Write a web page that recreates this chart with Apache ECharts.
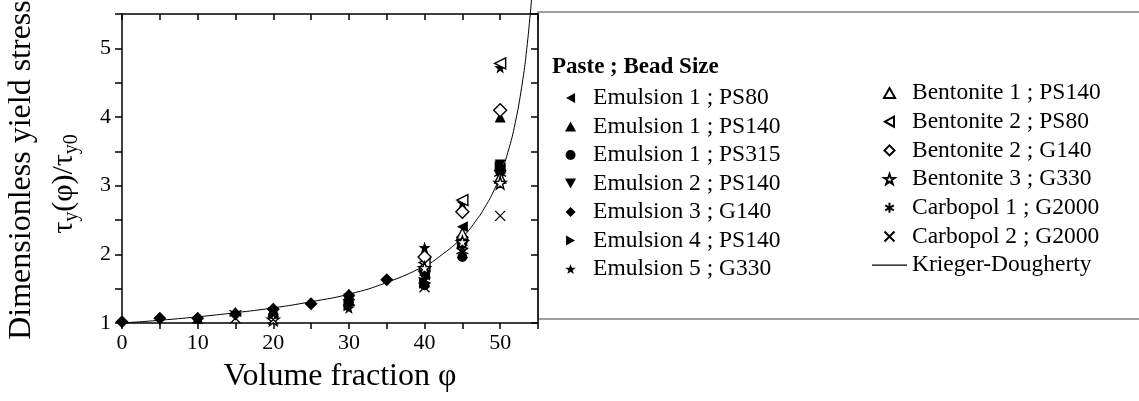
<!DOCTYPE html>
<html><head><meta charset="utf-8">
<script src="https://cdn.jsdelivr.net/npm/echarts@6/dist/echarts.min.js"></script>
<style>html,body{margin:0;padding:0;background:#fff}#c{width:1139px;height:401px}</style>
</head><body><div id="c"></div>
<script>
// ---- data (volume fraction %, dimensionless yield stress) ----
const emul1PS80  = [[40,1.70],[45,2.40],[50,3.25]];
const emul1PS140 = [[10,1.07],[20,1.20],[30,1.42],[40,1.60],[45,2.20],[50,4.00]];
const emul1PS315 = [[20,1.10],[30,1.30],[40,1.55],[45,1.96],[50,3.20]];
const emul2PS140 = [[20,1.15],[30,1.35],[40,1.65],[45,2.10],[50,3.30]];
const emul3G140  = [[0,1.02],[5,1.07],[10,1.07],[15,1.13],[20,1.20],[25,1.28],[30,1.40],[35,1.63],[40,1.75],[45,2.25],[50,3.22]];
const emul4PS140 = [[30,1.25],[40,1.58],[45,2.15],[50,3.28]];
const emul5G330  = [[20,1.08],[30,1.22],[40,2.10],[45,2.75],[50,4.72]];
const bent1PS140 = [[40,1.85],[45,2.30],[50,3.12]];
const bent2PS80  = [[40,1.88],[45,2.79],[50,4.78]];
const bent2G140  = [[40,1.96],[45,2.62],[50,4.10]];
const bent3G330  = [[20,1.05],[40,1.80],[45,2.18],[50,3.04]];
const carb1G2000 = [[15,1.14],[30,1.30],[40,1.62],[45,2.05],[50,3.18]];
const carb2G2000 = [[15,1.07],[20,1.05],[40,1.52],[45,2.02],[50,2.56]];
const kriegerDougherty = [[0,1.00],[5,1.04],[10,1.09],[15,1.15],[20,1.22],[25,1.31],[30,1.42],[35,1.59],[40,1.83],[42,1.97],[45,2.25],[47,2.52],[48,2.69],[49,2.89],[50,3.15],[51,3.48],[52,3.92],[53,4.55],[53.5,4.98],[54,5.53],[54.2,5.79]];
const xTicks = [0,10,20,30,40,50];
const yTicks = [1,2,3,4,5];

const FONT = '"Liberation Serif","DejaVu Serif",serif';
const sym = {
  left:'path://M0,5L9,0L9,10Z',
  right:'path://M9,5L0,0L0,10Z',
  up:'path://M5,0L10,9L0,9Z',
  down:'path://M0,0L10,0L5,9Z',
  diamond:'path://M5,0L10,5L5,10L0,5Z',
  star:'path://M5,0L6.18,3.38L9.76,3.45L6.9,5.62L7.94,9.05L5,7L2.06,9.05L3.1,5.62L0.24,3.45L3.82,3.38Z',
  ast:'path://M5,0L5,10M0.7,2.5L9.3,7.5M9.3,2.5L0.7,7.5',
  cross:'path://M0,0L10,10M10,0L0,10',
  bar:'path://M0,0L35,0L35,1.2L0,1.2Z'
};
function filled(name, data, symbol, size){
  return {type:'scatter', name, data, symbol, symbolSize:size||11, xAxisIndex:0, yAxisIndex:0,
    itemStyle:{color:'#000', opacity:1}, emphasis:{disabled:true}, z:3};
}
function open(name, data, symbol, size){
  return {type:'scatter', name, data, symbol, symbolSize:size||11, xAxisIndex:0, yAxisIndex:0,
    itemStyle:{color:'#fff', borderColor:'#000', borderWidth:1.4, opacity:1}, emphasis:{disabled:true}, z:4};
}
function lines(name, data, symbol, size){
  return {type:'scatter', name, data, symbol, symbolSize:size||11, xAxisIndex:0, yAxisIndex:0,
    itemStyle:{color:'none', borderColor:'#000', borderWidth:1.3, opacity:1}, emphasis:{disabled:true}, z:4};
}
const series = [
  filled('Emulsion 1 ; PS80', emul1PS80, sym.left),
  filled('Emulsion 1 ; PS140', emul1PS140, sym.up),
  filled('Emulsion 1 ; PS315', emul1PS315, 'circle', 10),
  filled('Emulsion 2 ; PS140', emul2PS140, sym.down),
  filled('Emulsion 3 ; G140', emul3G140, sym.diamond, 13),
  filled('Emulsion 4 ; PS140', emul4PS140, sym.right),
  filled('Emulsion 5 ; G330', emul5G330, sym.star, 12),
  open('Bentonite 1 ; PS140', bent1PS140, sym.up),
  open('Bentonite 2 ; PS80', bent2PS80, sym.left),
  open('Bentonite 2 ; G140', bent2G140, sym.diamond, 13),
  open('Bentonite 3 ; G330', bent3G330, sym.star, 12),
  lines('Carbopol 1 ; G2000', carb1G2000, sym.ast, 12),
  lines('Carbopol 2 ; G2000', carb2G2000, sym.cross, 10),
  {type:'line', name:'Krieger-Dougherty', data:kriegerDougherty, symbol:'none', showSymbol:false, smooth:true, clip:false,
   lineStyle:{color:'#000', width:1}, itemStyle:{color:'#000'}, emphasis:{disabled:true}, z:2}
];
const legendCommon = {orient:'vertical', padding:0, itemWidth:35, itemHeight:10, selectedMode:false,
  textStyle:{fontFamily:FONT, fontSize:23.5, lineHeight:22, color:'#000'}};
const rightLegendData = series.slice(7).map(s => s.type === 'line'
  ? {name:s.name, icon:sym.bar, itemStyle:{color:'#000', borderWidth:0}} : s.name);

const chart = echarts.init(document.getElementById('c'), null, {renderer:'canvas'});
chart.setOption({
  animation:false,
  backgroundColor:'#fff',
  grid:{left:122, right:601, top:14, bottom:78},
  xAxis:[
    {type:'value', min:0, max:55, interval:5, position:'bottom',
     axisLine:{onZero:false, lineStyle:{color:'#000', width:1.5}},
     axisTick:{inside:false, length:6, lineStyle:{color:'#000', width:1.5}},
     axisLabel:{fontFamily:FONT, fontSize:22, color:'#000', margin:9,
       formatter:v=>xTicks.includes(v)?String(v):''},
     splitLine:{show:false}},
    {type:'value', min:0, max:55, interval:5, position:'top',
     axisLine:{onZero:false, lineStyle:{color:'#000', width:1.5}},
     axisTick:{inside:false, length:-6, lineStyle:{color:'#000', width:1.5}},
     axisLabel:{show:false}, splitLine:{show:false}}
  ],
  yAxis:[
    {type:'value', min:1, max:5.5, interval:0.5, position:'left',
     axisLine:{onZero:false, lineStyle:{color:'#000', width:1.5}},
     axisTick:{inside:false, length:7, lineStyle:{color:'#000', width:1.5}},
     axisLabel:{fontFamily:FONT, fontSize:22, color:'#000', margin:11,
       formatter:v=>yTicks.includes(v)?String(v):''},
     splitLine:{show:false}},
    {type:'value', min:1, max:5.5, interval:0.5, position:'right',
     axisLine:{onZero:false, lineStyle:{color:'#000', width:1.5}},
     axisTick:{inside:false, length:-7, lineStyle:{color:'#000', width:1.5}},
     axisLabel:{show:false}, splitLine:{show:false}}
  ],
  legend:[
    Object.assign({}, legendCommon, {left:565, top:86, itemGap:4.5,
      data:series.slice(0,7).map(s=>s.name)}),
    Object.assign({}, legendCommon, {left:872, top:81, itemGap:4.7,
      data:rightLegendData})
  ],
  graphic:[
    {type:'rect', shape:{x:538, y:12, width:620, height:307}, silent:true, z:-1,
     style:{fill:'none', stroke:'#808080', lineWidth:1.5}},
    {type:'text', left:552, top:56, silent:true,
     style:{text:'Paste ; Bead Size', font:'bold 23px '+FONT, fill:'#000'}},
    {type:'text', x:340, y:377, silent:true,
     style:{text:'Volume fraction φ', font:'32px '+FONT, fill:'#000', align:'center', verticalAlign:'middle'}},
    {type:'text', x:22, y:170, rotation:Math.PI/2, silent:true,
     style:{text:'Dimensionless yield stress', font:'32px '+FONT, fill:'#000', align:'center', verticalAlign:'middle'}},
    {type:'text', x:64, y:184, rotation:Math.PI/2, silent:true,
     style:{text:'{n|τ}{s|y}{n|(φ)/τ}{s|y0}', align:'center', verticalAlign:'middle',
       rich:{n:{fontFamily:FONT, fontSize:30, fill:'#000', lineHeight:36, verticalAlign:'middle'},
             s:{fontFamily:FONT, fontSize:20, fill:'#000', lineHeight:36, verticalAlign:'bottom', padding:[14,0,0,0]}}}}
  ],
  series
});
</script></body></html>
